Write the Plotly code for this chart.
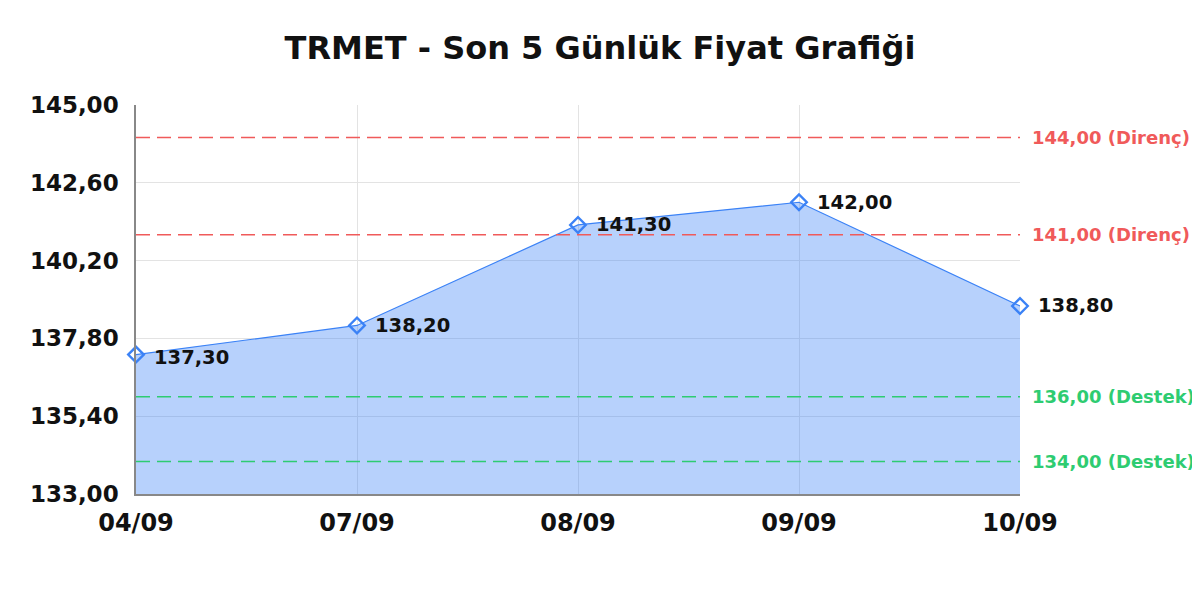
import plotly.graph_objects as go

# data
dates = ["04/09", "07/09", "08/09", "09/09", "10/09"]
prices = [137.30, 138.20, 141.30, 142.00, 138.80]
price_labels = ["137,30", "138,20", "141,30", "142,00", "138,80"]

resistance = [144.00, 141.00]
support = [136.00, 134.00]

y_ticks = [133.0, 135.4, 137.8, 140.2, 142.6, 145.0]

FONT = "DejaVu Sans"
RED = "#f05a5a"
GREEN = "#2ecc71"
BLUE = "#3b82f6"
DASH = "14px,7px"

fig = go.Figure()

# baseline so the area fills down to the bottom of the axis
fig.add_trace(go.Scatter(x=dates, y=[y_ticks[0]] * len(dates), mode="lines",
                         line=dict(width=0), hoverinfo="skip", showlegend=False))
fig.add_trace(go.Scatter(
    x=dates, y=prices, mode="lines+markers",
    fill="tonexty", fillcolor="rgba(59,130,246,0.37)",
    line=dict(color=BLUE, width=1.2),
    marker=dict(symbol="diamond-open", size=12, color=BLUE, line=dict(width=2.4)),
    cliponaxis=False, showlegend=False))

# point labels
for i, (d, p, lab) in enumerate(zip(dates, prices, price_labels)):
    fig.add_annotation(x=d, y=p, text="<b>%s</b>" % lab, showarrow=False,
                       xanchor="left", xshift=16, yshift=-3 if i == 0 else 0,
                       font=dict(family=FONT, size=19.5, color="#111"))

# support / resistance levels, labels on the right of the plot
for lvl in resistance:
    fig.add_hline(y=lvl, line=dict(color=RED, width=1.5, dash=DASH))
    fig.add_annotation(x=1, xref="paper", y=lvl, xanchor="left", xshift=10,
                       text="<b>%s (Direnç)</b>" % f"{lvl:.2f}".replace(".", ","),
                       showarrow=False, font=dict(family=FONT, size=18, color=RED))
for lvl in support:
    fig.add_hline(y=lvl, line=dict(color=GREEN, width=1.5, dash=DASH))
    fig.add_annotation(x=1, xref="paper", y=lvl, xanchor="left", xshift=10,
                       text="<b>%s (Destek)</b>" % f"{lvl:.2f}".replace(".", ","),
                       showarrow=False, font=dict(family=FONT, size=18, color=GREEN))

fig.update_layout(
    width=1200, height=600,
    paper_bgcolor="white", plot_bgcolor="white",
    separators=",.",
    margin=dict(l=128, r=188, t=97, b=114),
    title=dict(text="<b>TRMET - Son 5 Günlük Fiyat Grafiği</b>", x=592 / 1200,
               xref="container", y=1 - 40 / 600, xanchor="center", yanchor="middle",
               font=dict(family=FONT, size=32, color="#111")),
    font=dict(family=FONT),
)
fig.update_xaxes(type="category", range=[0, 4], showgrid=True, gridcolor="#e3e3e3",
                 showline=True, linecolor="#888", linewidth=1.5, ticks="",
                 ticklabelstandoff=6, automargin=False,
                 tickfont=dict(family=FONT, size=24, color="#111", weight="bold"))
fig.update_yaxes(range=[133, 145], tickvals=y_ticks, tickformat=".2f",
                 showgrid=True, gridcolor="#e3e3e3", zeroline=False,
                 showline=True, linecolor="#888", linewidth=1.5, ticks="",
                 ticklabelstandoff=11, automargin=False,
                 tickfont=dict(family=FONT, size=23, color="#111", weight="bold"))

fig.write_html("out.html")
